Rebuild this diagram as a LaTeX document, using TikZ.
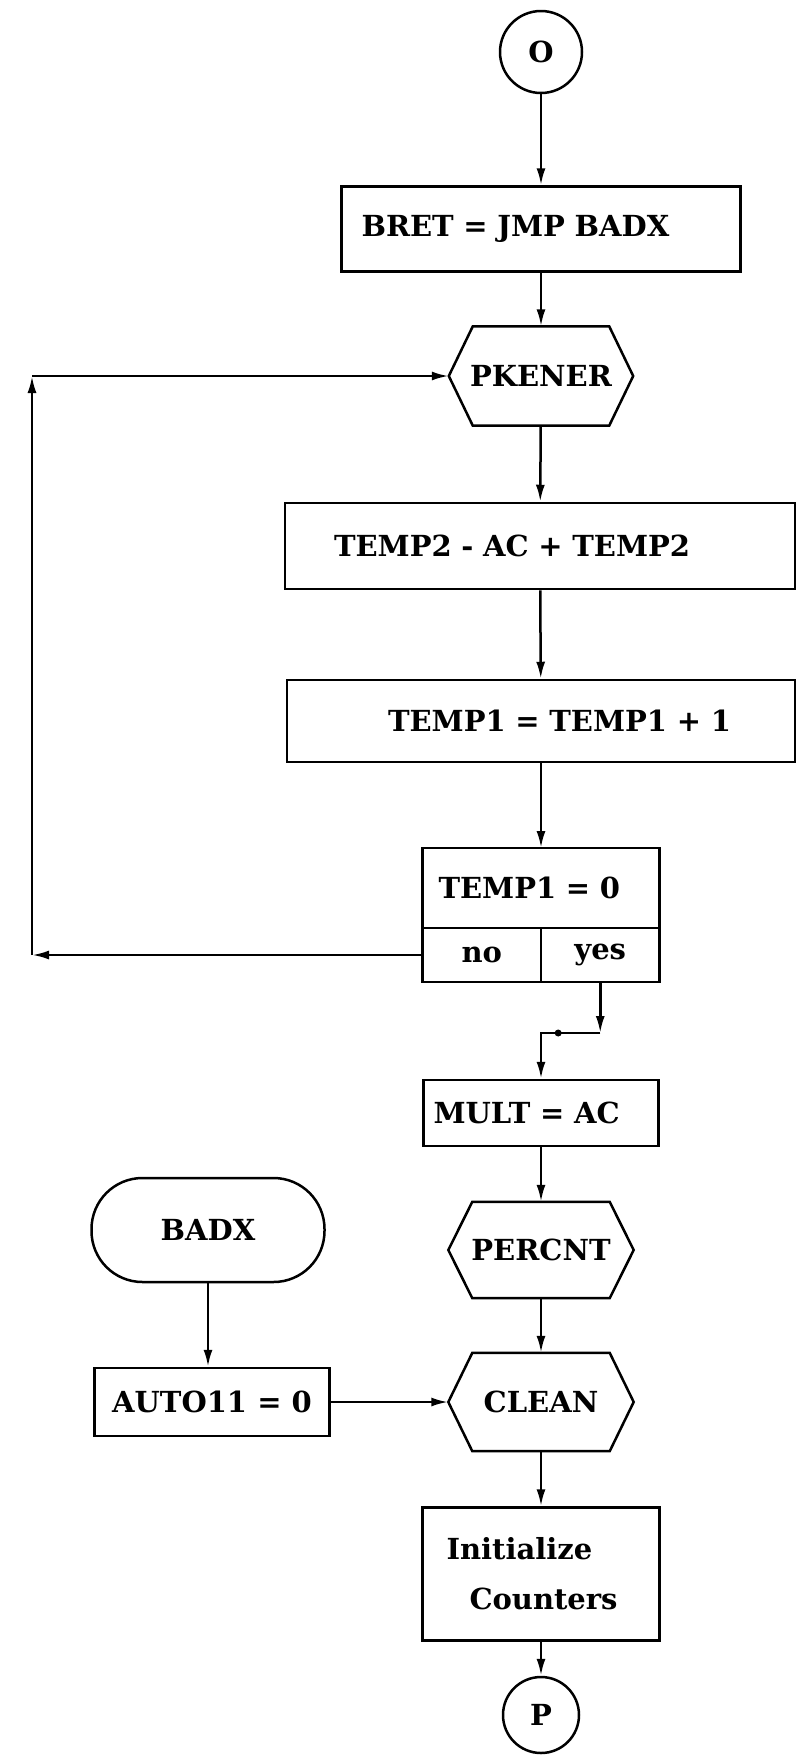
\documentclass[tikz,border=0pt]{standalone}
\usepackage{fontspec}
\setmainfont{DejaVu Serif}
\usepackage{tikz}
\usetikzlibrary{arrows.meta,positioning,calc}
\newcommand{\flowtext}{\fontsize{29}{35}\selectfont\bfseries}
\tikzset{
  flow/.style={draw=black,line width=2.5pt},
  box/.style={flow,rectangle,inner sep=4pt,font=\flowtext},
  cell/.style={box,outer sep=0pt},
  hexa/.style={rectangle,inner sep=0pt,font=\flowtext},
  term/.style={flow,rectangle,rounded corners=51pt,font=\flowtext},
  conn/.style={flow,circle,inner sep=0pt,font=\flowtext},
  ar/.style={-{Latex[length=17pt,width=9pt]},line width=2.5pt},
}
% hexagon round a plain node
\newcommand{\hexframe}[1]{%
  \draw[flow] ([xshift=24pt]#1.north west) -- ([xshift=-24pt]#1.north east) -- (#1.east)
    -- ([xshift=-24pt]#1.south east) -- ([xshift=24pt]#1.south west) -- (#1.west) -- cycle;}

\begin{document}
\begin{tikzpicture}[x=1pt,y=-1pt]
  \path[fill=white,use as bounding box] (0,0) rectangle (798,1757);
  % main column
  \node[conn,minimum size=82pt] (o) at (541,52) {O};
  \node[box,minimum width=399pt,minimum height=85pt,text width=359pt,inner xsep=20pt,align=left] (bret) at (541,229) {BRET = JMP BADX};
  \node[hexa,minimum width=184pt,minimum height=99pt] (pkener) at (541,376) {PKENER};
  \hexframe{pkener}
  \node[box,minimum width=510pt,minimum height=86pt,text width=412pt,inner xsep=49pt,align=left] (temp2) at (540,546) {TEMP2 - AC + TEMP2};
  \node[box,minimum width=508pt,minimum height=82pt,text width=380pt,inner xsep=64pt,align=right] (temp1) at (541,721) {TEMP1 = TEMP1 + 1};
  % test box
  \node[cell,minimum width=237pt,minimum height=80pt,text width=205pt,inner xsep=16pt,align=left] (test) at (541,888) {TEMP1 = 0};
  \node[cell,minimum width=118.5pt,minimum height=54pt,anchor=north west] (no) at (test.south west) {no};
  \node[cell,minimum width=118.5pt,minimum height=54pt,anchor=north east] (yes) at (test.south east) {yes};
  \node[box,minimum width=235pt,minimum height=66pt,text width=215pt,inner xsep=10pt,align=left] (mult) at (541,1113) {MULT = AC};
  \node[hexa,minimum width=185pt,minimum height=96pt] (percnt) at (541,1250) {PERCNT};
  \hexframe{percnt}
  \node[hexa,minimum width=185pt,minimum height=98pt] (clean) at (541,1402) {CLEAN};
  \hexframe{clean}
  \node[box,minimum width=237pt,minimum height=133pt,text width=189pt,inner xsep=24pt,align=left] (init) at (541,1574) {Initialize\\[15pt]\hspace*{23pt}Counters};
  \node[conn,minimum size=76pt] (p) at (541,1715) {P};
  % entry BADX
  \node[term,minimum width=233pt,minimum height=104pt] (badx) at (208,1230) {BADX};
  \node[box,minimum width=235pt,minimum height=68pt] (auto) at (212,1402) {AUTO11 = 0};

  \draw[ar] (o) -- (bret);
  \draw[ar] (bret) -- (pkener);
  \draw[ar] (pkener) -- (temp2);
  \draw[ar] (temp2) -- (temp1);
  \draw[ar] (temp1) -- (test);
  \draw[ar] (mult) -- (percnt);
  \draw[ar] (percnt) -- (clean);
  \draw[ar] (clean) -- (init);
  \draw[ar] (init) -- (p);
  \draw[ar] (badx.south) -- (badx.south |- auto.north);
  \draw[ar] (auto) -- (clean.west);
  % no: back to PKENER
  \coordinate (loopx) at (32,0);
  \coordinate (c1) at (loopx |- no.west);
  \coordinate (c2) at (loopx |- pkener.west);
  \draw[ar] (no.west) -- (c1);
  \draw[ar] (c1) -- (c2);
  \draw[ar] (c2) -- (pkener.west);
  % yes: jog to MULT
  \path (yes.south) ++(0,51) coordinate (yjog);
  \draw[ar] (yes.south) -- (yjog);
  \draw[ar] (yjog) -| (mult.north);
  \fill ($(yjog)!0.71!(yjog -| mult.north)$) circle (3.5pt);
\end{tikzpicture}
\end{document}
